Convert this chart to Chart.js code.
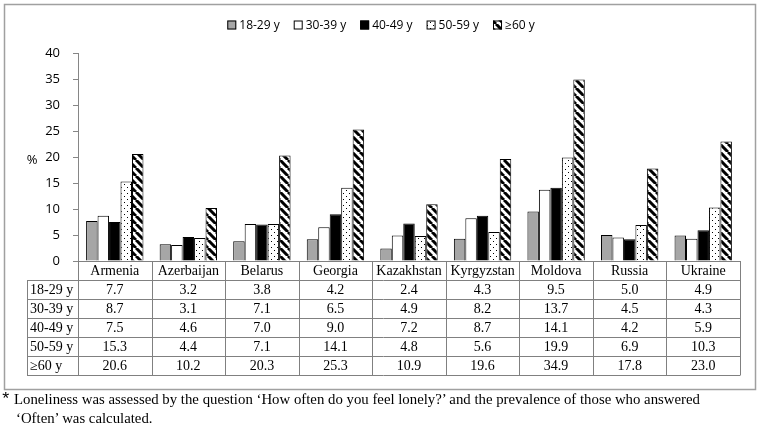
<!DOCTYPE html>
<html lang="en">
<head>
<meta charset="UTF-8">
<title>Loneliness by age group</title>
<script src="https://cdn.jsdelivr.net/npm/chart.js"></script>
<style>
  body { margin: 0; background: #fff; }
  .wrap { position: relative; width: 760px; height: 431px; overflow: hidden; }
  canvas { position: absolute; left: 0; top: 0; }
  .note { position: absolute; font-family: 'Liberation Serif', serif; font-size: 14px; color: #000; white-space: nowrap; transform: scaleX(1.057); transform-origin: left top; }
  .star { position: absolute; left: -11px; top: -3px; font-family: 'Liberation Sans', sans-serif; font-size: 17px; }
</style>
</head>
<body>
<div class="wrap">
  <canvas id="chart" width="760" height="431"></canvas>
  <div class="note" style="left:14px; top:392px;"><span class="star">*</span>Loneliness was assessed by the question ‘How often do you feel lonely?’ and the prevalence of those who answered</div>
  <div class="note" style="left:16px; top:411px;">‘Often’ was calculated.</div>
</div>
<script>
const countries = ['Armenia', 'Azerbaijan', 'Belarus', 'Georgia', 'Kazakhstan', 'Kyrgyzstan', 'Moldova', 'Russia', 'Ukraine'];
const ageGroups = ['18-29 y', '30-39 y', '40-49 y', '50-59 y', '≥60 y'];

const age18to29 = [7.7, 3.2, 3.8, 4.2, 2.4, 4.3, 9.5, 5.0, 4.9];
const age30to39 = [8.7, 3.1, 7.1, 6.5, 4.9, 8.2, 13.7, 4.5, 4.3];
const age40to49 = [7.5, 4.6, 7.0, 9.0, 7.2, 8.7, 14.1, 4.2, 5.9];
const age50to59 = [15.3, 4.4, 7.1, 14.1, 4.8, 5.6, 19.9, 6.9, 10.3];
const age60plus = [20.6, 10.2, 20.3, 25.3, 10.9, 19.6, 34.9, 17.8, 23.0];

const yMax = 40;
const yStep = 5;

// fill patterns like the old office chart
function dotPattern() {
    const c = document.createElement('canvas');
    c.width = 6; c.height = 6;
    const g = c.getContext('2d');
    g.fillStyle = '#fff'; g.fillRect(0, 0, 6, 6);
    g.fillStyle = '#000';
    g.fillRect(1, 1, 1, 1);
    g.fillRect(4, 4, 1, 1);
    return g.createPattern(c, 'repeat');
}

function stripePattern() {
    const s = 8;
    const c = document.createElement('canvas');
    c.width = s; c.height = s;
    const g = c.getContext('2d');
    g.fillStyle = '#fff'; g.fillRect(0, 0, s, s);
    g.strokeStyle = '#000'; g.lineWidth = 3;
    g.beginPath();
    for (const o of [-s, 0, s]) { g.moveTo(o, 0); g.lineTo(o + s, s); }
    g.stroke();
    return g.createPattern(c, 'repeat');
}

const fills = ['#a6a6a6', '#ffffff', '#000000', dotPattern(), stripePattern()];
const series = [age18to29, age30to39, age40to49, age50to59, age60plus];

const sans = '"Open Sans", sans-serif';
const serif = '"Liberation Serif", serif';

// frame, legend, "%" label and the data table under the bars
const extras = {
    id: 'extras',
    beforeDraw(chart) {
        const ctx = chart.ctx;
        ctx.save();
        ctx.fillStyle = '#fff';
        ctx.fillRect(0, 0, chart.width, chart.height);
        ctx.strokeStyle = '#a0a0a0';
        ctx.lineWidth = 1.5;
        ctx.strokeRect(4.5, 4.5, 751, 385);
        ctx.restore();
    },
    afterDraw(chart) {
        const { ctx, chartArea, scales: { x } } = chart;
        const ds = chart.data.datasets;
        ctx.save();

        // legend
        ctx.font = '12px ' + sans;
        const box = 9, gap = 3, space = 14;
        const widths = ds.map(d => ctx.measureText(d.label).width);
        const total = widths.reduce((a, w) => a + box + gap + w, 0) + space * (ds.length - 1);
        let lx = 381 - total / 2;
        const ly = 25;
        ctx.textBaseline = 'middle';
        ctx.textAlign = 'left';
        ds.forEach((d, i) => {
            ctx.fillStyle = d.backgroundColor;
            ctx.fillRect(lx, ly - box / 2, box, box);
            ctx.strokeStyle = '#000';
            ctx.lineWidth = 1;
            ctx.strokeRect(lx + 0.5, ly - box / 2 + 0.5, box - 1, box - 1);
            ctx.fillStyle = '#000';
            ctx.fillText(d.label, lx + box + gap, ly + 1);
            lx += box + gap + widths[i] + space;
        });

        // % label
        ctx.font = '13px ' + sans;
        ctx.textAlign = 'center';
        ctx.fillText('%', 32, 160);

        // data table
        const n = countries.length;
        const colW = (chartArea.right - chartArea.left) / n;
        const rowH = 19;
        const top = Math.round(chartArea.bottom);
        const left = 27;
        const bottom = top + rowH * (ds.length + 1);
        ctx.strokeStyle = '#808080';
        ctx.lineWidth = 1;
        ctx.beginPath();
        ctx.moveTo(chartArea.left, top + 0.5);
        ctx.lineTo(chartArea.right, top + 0.5);
        for (let r = 1; r <= ds.length + 1; r++) {
            ctx.moveTo(left, top + r * rowH + 0.5);
            ctx.lineTo(chartArea.right, top + r * rowH + 0.5);
        }
        ctx.moveTo(left + 0.5, top + rowH);
        ctx.lineTo(left + 0.5, bottom);
        for (let j = 0; j <= n; j++) {
            const vx = Math.round(chartArea.left + j * colW) + 0.5;
            ctx.moveTo(vx, top);
            ctx.lineTo(vx, bottom + 0.5);
        }
        ctx.stroke();

        ctx.fillStyle = '#000';
        ctx.font = '14px ' + serif;
        ctx.textAlign = 'center';
        countries.forEach((c, j) => ctx.fillText(c, x.getPixelForValue(j), top + rowH / 2 + 1));
        ds.forEach((d, i) => {
            const cy = top + (i + 1) * rowH + rowH / 2 + 1;
            ctx.textAlign = 'left';
            ctx.fillText(d.label, left + 3, cy);
            ctx.textAlign = 'center';
            d.data.forEach((v, j) => ctx.fillText(v.toFixed(1), x.getPixelForValue(j), cy));
        });
        ctx.restore();
    }
};

new Chart(document.getElementById('chart'), {
    type: 'bar',
    data: {
        labels: countries,
        datasets: ageGroups.map((g, i) => ({
            label: g,
            data: series[i],
            backgroundColor: fills[i],
            borderColor: '#000',
            borderWidth: 1,
            categoryPercentage: 0.78,
            barPercentage: 1.0
        }))
    },
    options: {
        responsive: false,
        animation: false,
        devicePixelRatio: 1,
        layout: { padding: { top: 53, left: 38, right: 20, bottom: 170 } },
        plugins: {
            legend: { display: false },
            tooltip: { enabled: false }
        },
        scales: {
            x: { display: false },
            y: {
                min: 0,
                max: yMax,
                ticks: { stepSize: yStep, padding: 13, color: '#000', font: { family: 'Open Sans', size: 13 } },
                grid: { drawOnChartArea: false, drawTicks: true, tickLength: 5, color: '#868686' },
                border: { color: '#868686' },
                afterFit(s) { s.width = 40; }
            }
        }
    },
    plugins: [extras]
});
</script>
</body>
</html>
